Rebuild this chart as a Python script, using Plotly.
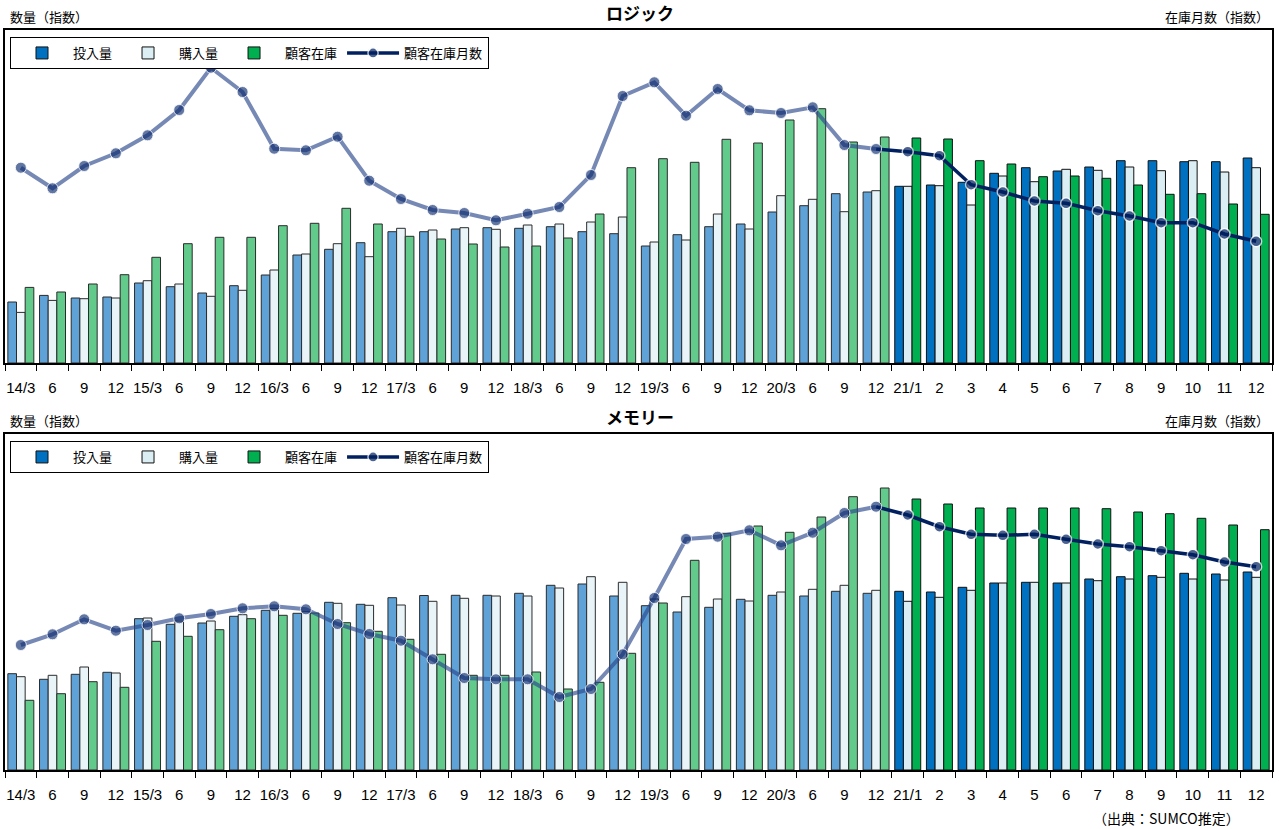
import plotly.graph_objects as go

# ---------------- data ----------------
tick_labels = ["14/3", "6", "9", "12", "15/3", "6", "9", "12", "16/3", "6", "9", "12",
               "17/3", "6", "9", "12", "18/3", "6", "9", "12", "19/3", "6", "9", "12",
               "20/3", "6", "9", "12", "21/1", "2", "3", "4", "5", "6", "7", "8", "9",
               "10", "11", "12"]
n_hist = 28  # 14/3 .. 20/12 are actuals, 21/1 .. 21/12 are forecasts

series_names = ["投入量", "購入量", "顧客在庫", "顧客在庫月数"]

logic_input = [61, 67.6, 65, 66, 80, 76.3, 70, 77.3, 88, 108, 113.7, 120.3, 131.3, 131.3,
               134, 135.3, 134.7, 136.3, 131.3, 129.3, 117, 128.3, 136.3, 139, 151, 157.3,
               169.3, 171, 176.7, 178, 180.7, 189.7, 195.3, 192, 196, 202.3, 202.3, 201.3,
               201.3, 205]
logic_purchase = [50.6, 62.6, 64.3, 65, 82.3, 79, 66.7, 72.7, 93, 109, 119.3, 106.3, 134.7,
                  133, 135.3, 133.7, 138, 139, 141, 146, 121, 123, 149, 134, 167.3, 163.7,
                  151.3, 172.3, 176.7, 177.3, 158, 187, 181.3, 193.7, 192.7, 196, 192.3,
                  202.3, 191, 195.3]
logic_inventory = [75.6, 71, 79, 88.3, 105.7, 119.3, 125.7, 125.7, 137.3, 139.7, 154.7, 139,
                   126.7, 124, 119, 116, 117, 125, 149, 195.3, 204.3, 200.7, 223.7, 220, 243,
                   254.3, 221, 226, 225, 224, 202.3, 199, 186.3, 187, 184.7, 178, 168.7,
                   169.3, 159, 148.7]
logic_months = [195.3, 174.7, 197, 209.7, 227.7, 253, 295.3, 271, 214.3, 212.7, 226.3, 182.3,
                164, 153, 150, 142.7, 149.3, 156, 188, 267, 280.7, 247.3, 274, 252.7, 250,
                255.7, 218, 214, 211.3, 207.3, 178.3, 171, 162, 159.7, 152.3, 147, 140.3,
                140.3, 129, 121.7]

memory_input = [96.3, 90.7, 95.7, 97.7, 151.3, 145.7, 147, 153.7, 159.7, 156.7, 167.7, 165.7,
                172.3, 174.5, 174.7, 174.7, 176.7, 184.7, 186, 174, 164.3, 158, 162.7, 170.7,
                174.7, 174, 178.7, 176.7, 178.7, 178, 182.7, 187, 187.7, 187, 191, 193.3,
                194.3, 196.7, 196, 198]
memory_purchase = [93.3, 94.7, 103, 97, 152, 149, 149, 155.3, 161.3, 158.3, 166.7, 164.7, 165,
                   168.7, 171.7, 174, 174, 182, 193.3, 187.7, 171, 173.3, 171, 169, 178, 180.7,
                   184.7, 179.7, 168.7, 172.7, 179.7, 187, 187.7, 187, 189.3, 191, 192.7, 191,
                   190, 192.7]
memory_inventory = [69.7, 76.3, 88.3, 82.7, 128.7, 133.7, 140.3, 151.3, 154.7, 157, 147.3,
                    138.7, 130.7, 115.7, 94.7, 94.7, 98, 81, 87.7, 116.7, 167, 209.7, 236.7,
                    244, 237.7, 253, 273.3, 282, 271, 266, 262, 262, 262, 262, 261.3, 258,
                    256.3, 251.7, 245, 240.3]
memory_months = [125, 135.7, 150.7, 139.3, 145, 151.7, 156, 161.7, 163.7, 160.7, 146, 136,
                 129.3, 110.7, 92, 90.7, 90.7, 73, 81, 115.7, 172, 231, 233.3, 239.7, 224.7,
                 237.3, 257, 263.3, 255, 243.3, 235.7, 234.7, 235.7, 230.7, 226, 223.3, 219.3,
                 215.3, 208, 203.3]

# ---------------- styles ----------------
FONT = "Liberation Sans, Arial, Noto Sans CJK JP, sans-serif"
JFONT = "Noto Sans CJK JP, Liberation Sans, sans-serif"
fc_colors = ["#0070C0", "#DAEEF3", "#00B050"]
hist_colors = ["#5FA2D8", "#E9F4F8", "#62CB8C"]
NAVY = "#002060"

W, H = 1279, 829


def py(px):
    return 1 - px / H


panels = [
    dict(xa="x", ya="y", ya2="y2", legend="legend",
         bars=[logic_input, logic_purchase, logic_inventory], months=logic_months,
         top=30, bottom=363, title="ロジック"),
    dict(xa="x2", ya="y3", ya2="y4", legend="legend2",
         bars=[memory_input, memory_purchase, memory_inventory], months=memory_months,
         top=434, bottom=770, title="メモリー"),
]

fig = go.Figure()
n = len(tick_labels)
xs = list(range(n))

for p in panels:
    for k, vals in enumerate(p["bars"]):
        fig.add_trace(go.Bar(
            x=xs[:n_hist], y=vals[:n_hist], xaxis=p["xa"], yaxis=p["ya"],
            offsetgroup=str(k), legendgroup=series_names[k], showlegend=False,
            name=series_names[k], legend=p["legend"],
            marker=dict(color=hist_colors[k], line=dict(color="#2b2b2b", width=1)),
        ))
        fig.add_trace(go.Bar(
            x=xs[n_hist:], y=vals[n_hist:], xaxis=p["xa"], yaxis=p["ya"],
            offsetgroup=str(k), legendgroup=series_names[k], showlegend=True,
            name=series_names[k], legend=p["legend"],
            marker=dict(color=fc_colors[k], line=dict(color="#111111", width=1)),
        ))
    m = p["months"]
    fig.add_trace(go.Scatter(
        x=xs[n_hist - 1:], y=m[n_hist - 1:], xaxis=p["xa"], yaxis=p["ya2"],
        mode="lines+markers", name=series_names[3], legend=p["legend"],
        line=dict(color=NAVY, width=3.5),
        marker=dict(color=NAVY, size=[0] + [11] * (n - n_hist), line=dict(color="white", width=1.5)),
    ))
    fig.add_trace(go.Scatter(
        x=xs[:n_hist], y=m[:n_hist], xaxis=p["xa"], yaxis=p["ya2"],
        mode="lines+markers", name=series_names[3], showlegend=False, legend=p["legend"],
        line=dict(color="rgba(40,70,140,0.64)", width=4),
        marker=dict(color="rgba(10,40,110,0.64)", size=11, line=dict(color="rgba(255,255,255,0.8)", width=1)),
    ))

x_dom = [5 / W, 1272 / W]
axis_common = dict(showline=True, mirror=True, linecolor="black", linewidth=1.5,
                   showgrid=False, zeroline=False)

layout = dict(
    width=W, height=H, margin=dict(l=0, r=0, t=0, b=0),
    paper_bgcolor="white", plot_bgcolor="white",
    barmode="group", bargap=0.18, bargroupgap=0,
    font=dict(family=FONT, color="black"),
    annotations=[],
)

for i, p in enumerate(panels):
    xname = "xaxis" if i == 0 else "xaxis2"
    yname = "yaxis" if i == 0 else "yaxis3"
    y2name = "yaxis2" if i == 0 else "yaxis4"
    rng = [0, p["bottom"] - p["top"]]
    dom = [py(p["bottom"]), py(p["top"])]
    layout[xname] = dict(
        domain=x_dom, anchor=p["ya"], range=[-0.5, n - 0.5],
        tickmode="array", tickvals=xs, ticktext=tick_labels, ticks="",
        tickfont=dict(family=FONT, size=15, color="black"), ticklabelstandoff=10,
        minor=dict(tickmode="array", tickvals=[v - 0.5 for v in range(n + 1)],
                   ticks="outside", ticklen=6, tickwidth=1.3, tickcolor="black"),
        **axis_common)
    layout[yname] = dict(domain=dom, anchor=p["xa"], range=rng, showticklabels=False,
                         ticks="", **axis_common)
    layout[y2name] = dict(domain=dom, anchor=p["xa"], overlaying=p["ya"], side="right",
                          range=rng, visible=False)
    layout[p["legend"]] = dict(
        x=10 / W, y=py(p["top"] + 7), xanchor="left", yanchor="top",
        orientation="h", bgcolor="white", bordercolor="black", borderwidth=1,
        font=dict(family=JFONT, size=13, color="black"),
        traceorder="normal", itemwidth=52, tracegroupgap=0,
    )
    layout["annotations"] += [
        dict(text="<b>" + p["title"] + "</b>", x=0.5, y=py(p["top"] - 18), xref="paper",
             yref="paper", xanchor="center", yanchor="middle", showarrow=False,
             font=dict(family=JFONT, size=17, color="black")),
        dict(text="数量（指数）", x=8 / W, y=py(p["top"] - 14), xref="paper", yref="paper",
             xanchor="left", yanchor="middle", showarrow=False,
             font=dict(family=JFONT, size=13, color="black")),
        dict(text="在庫月数（指数）", x=1271 / W, y=py(p["top"] - 14), xref="paper",
             yref="paper", xanchor="right", yanchor="middle", showarrow=False,
             font=dict(family=JFONT, size=13, color="black")),
    ]

layout["annotations"].append(
    dict(text="（出典：SUMCO推定）", x=1242 / W, y=py(818), xref="paper", yref="paper",
         xanchor="right", yanchor="middle", showarrow=False,
         font=dict(family=JFONT, size=14, color="black")))

fig.update_layout(**layout)
fig.write_html("out.html", config={"displayModeBar": False},
               post_script="document.body.style.margin='0';document.body.style.overflow='hidden';")
